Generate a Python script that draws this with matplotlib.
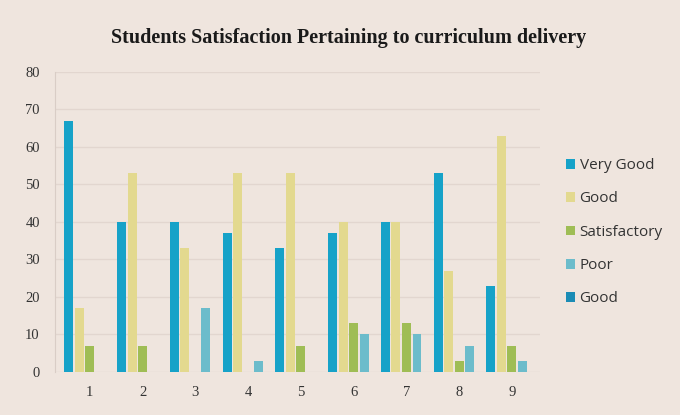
import numpy as np
import matplotlib.pyplot as plt

# Students satisfaction per curriculum item
categories = ['1', '2', '3', '4', '5', '6', '7', '8', '9']
very_good = [67, 40, 40, 37, 33, 37, 40, 53, 23]
good = [17, 53, 33, 53, 53, 40, 40, 27, 63]
satisfactory = [7, 7, 0, 0, 7, 13, 13, 3, 7]
poor = [0, 0, 17, 3, 0, 10, 10, 7, 3]
good2 = [0, 0, 0, 0, 0, 0, 0, 0, 0]

series = [('Very Good', very_good, '#16a2c8'),
          ('Good', good, '#e3d98f'),
          ('Satisfactory', satisfactory, '#9fbd55'),
          ('Poor', poor, '#6cbccb'),
          ('Good', good2, '#1b8cb5')]

bg = '#efe5de'
fig = plt.figure(figsize=(6.8, 4.15), dpi=100, facecolor=bg)
ax = fig.add_axes([0.081, 0.104, 0.713, 0.723], facecolor=bg)

x = np.arange(1, len(categories) + 1)
slot = 0.2
for i, (name, vals, col) in enumerate(series):
    ax.bar(x + (i - 2) * slot, vals, width=slot * 0.85, color=col, label=name, zorder=3)

ax.set_xlim(0.34, 9.53)
ax.set_ylim(0, 80)
ax.set_yticks(range(0, 81, 10))
ax.set_xticks(x)
ax.set_xticklabels(categories)
ax.grid(axis='y', color='#e2d6cf', linewidth=1.0, zorder=0)
for s in ['top', 'right', 'bottom']:
    ax.spines[s].set_visible(False)
ax.spines['left'].set_color('#d9cdc6')
ax.tick_params(length=0, labelsize=10.5, labelcolor='#333333', pad=10)
for lab in ax.get_xticklabels() + ax.get_yticklabels():
    lab.set_family('Liberation Serif')
ax.tick_params(axis='y', pad=11)

fig.text(0.513, 0.908, 'Students Satisfaction Pertaining to curriculum delivery',
         ha='center', va='center', fontsize=14.5, fontweight='bold',
         family='Liberation Serif', color='#1a1a1a')

leg = ax.legend(loc='center left', bbox_to_anchor=(1.025, 0.465), frameon=False,
                handlelength=0.6, handleheight=0.6,
                handletextpad=0.3, labelspacing=1.2,
                prop={'family': 'Open Sans', 'size': 11})
for t in leg.get_texts():
    t.set_color('#333333')

fig.savefig('out.png', dpi=100, facecolor=bg)
